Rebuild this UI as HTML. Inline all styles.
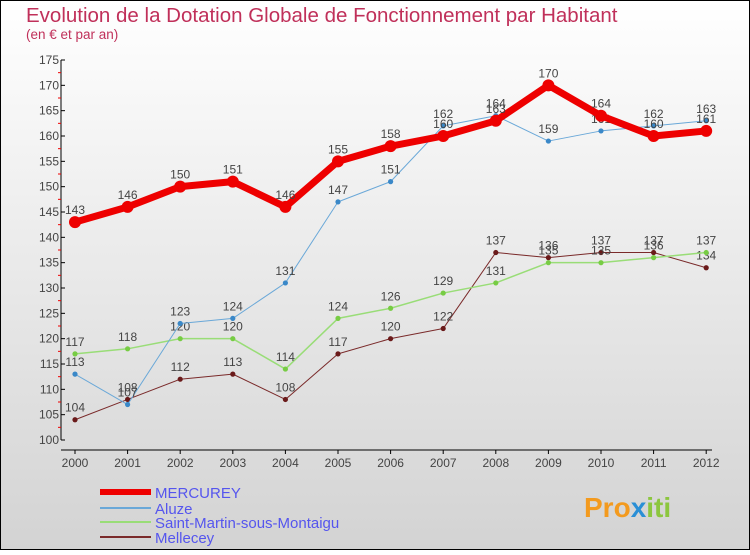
<!DOCTYPE html>
<html><head><meta charset="utf-8"><style>
body{margin:0;width:750px;height:550px;overflow:hidden;font-family:"Liberation Sans",sans-serif}
</style></head><body>
<svg id="chart" width="750" height="550" xmlns="http://www.w3.org/2000/svg" font-family="Liberation Sans, sans-serif">
<defs><linearGradient id="bg" x1="0" y1="0" x2="0" y2="1"><stop offset="0" stop-color="#ffffff"/><stop offset="1" stop-color="#d3d3d3"/></linearGradient></defs>
<rect x="0.5" y="0.5" width="749" height="549" fill="url(#bg)" stroke="#000"/>
<text x="26" y="22" font-size="20.5" fill="#c0305a">Evolution de la Dotation Globale de Fonctionnement par Habitant</text>
<text x="26" y="39" font-size="13.5" fill="#c0305a">(en € et par an)</text>
<g id="axes"></g><g id="series"></g><g id="legend"></g>
<text x="584" y="517" font-size="28" font-weight="bold" fill="#f39a1e">Pro<tspan fill="#2a8fd6">x</tspan><tspan fill="#8cc63f">iti</tspan></text>
</svg>
<script>
const years=[2000,2001,2002,2003,2004,2005,2006,2007,2008,2009,2010,2011,2012];
const mercurey=[143,146,150,151,146,155,158,160,163,170,164,160,161];
const aluze=[113,107,123,124,131,147,151,162,164,159,161,162,163];
const saintMartin=[117,118,120,120,114,124,126,129,131,135,135,136,137];
const mellecey=[104,108,112,113,108,117,120,122,137,136,137,137,134];
const yTicks=[100,105,110,115,120,125,130,135,140,145,150,155,160,165,170,175];
const NS="http://www.w3.org/2000/svg";
const X=i=>75+i*52.6, Y=v=>440-(v-100)*380/75;
function mk(t,a,p){const e=document.createElementNS(NS,t);for(const k in a)e.setAttribute(k,a[k]);p.appendChild(e);return e;}
const ax=document.getElementById('axes');
let l=mk('line',{x1:61,y1:60,x2:61,y2:440,stroke:'#000'},ax);

l=mk('line',{x1:61,y1:450,x2:712,y2:450,stroke:'#000'},ax);

yTicks.forEach((v,i)=>{
 mk('line',{x1:61,y1:Y(v),x2:65,y2:Y(v),stroke:'#000'},ax);
 if(i<yTicks.length-1)mk('line',{x1:58,y1:Y(v+2.5),x2:61,y2:Y(v+2.5),stroke:'#e00'},ax);
 const t=mk('text',{x:59,y:Y(v)+4,'font-size':12,fill:'#444','text-anchor':'end'},ax);t.textContent=v;
 
});
years.forEach((y,i)=>{
 mk('line',{x1:X(i),y1:450,x2:X(i),y2:454,stroke:'#000'},ax);
 const t=mk('text',{x:X(i),y:467,'font-size':12,fill:'#444','text-anchor':'middle'},ax);t.textContent=y;
 
});
const sg=document.getElementById('series');
function draw(name,data,color,w,r,dot){
 const g=mk('g',{},sg);
 mk('polyline',{points:data.map((v,i)=>X(i)+','+Y(v)).join(' '),fill:'none',stroke:color,'stroke-width':w,'stroke-linejoin':'round'},g);
 data.forEach((v,i)=>{
  const c=mk('circle',{cx:X(i),cy:Y(v),r:r,fill:dot},g);
  
  const t=mk('text',{x:X(i),y:Y(v)-8,'font-size':12,fill:'#444','text-anchor':'middle'},g);t.textContent=v;
  
 });
}
draw('mellecey',mellecey,'#7a2a2a',1,2.6,'#6a1a1a');
draw('saint-martin',saintMartin,'#99dd77',1.5,2.6,'#77cc44');
draw('aluze',aluze,'#6aa8d8',1,2.6,'#3a88c8');
draw('mercurey',mercurey,'#ee0000',7,6,'#ee0000');
const lg=document.getElementById('legend');
[['MERCUREY','#ee0000',6,492],['Aluze','#6aa8d8',2,508],['Saint-Martin-sous-Montaigu','#99dd77',2,522],['Mellecey','#7a2a2a',2,537]].forEach(d=>{
 const g=mk('g',{},lg);
 mk('line',{x1:100,y1:d[3],x2:151,y2:d[3],stroke:d[1],'stroke-width':d[2]},g);
 const t=mk('text',{x:155,y:d[3]+6,'font-size':15,fill:'#5555ee'},g);t.textContent=d[0];
});
</script>
</body></html>
